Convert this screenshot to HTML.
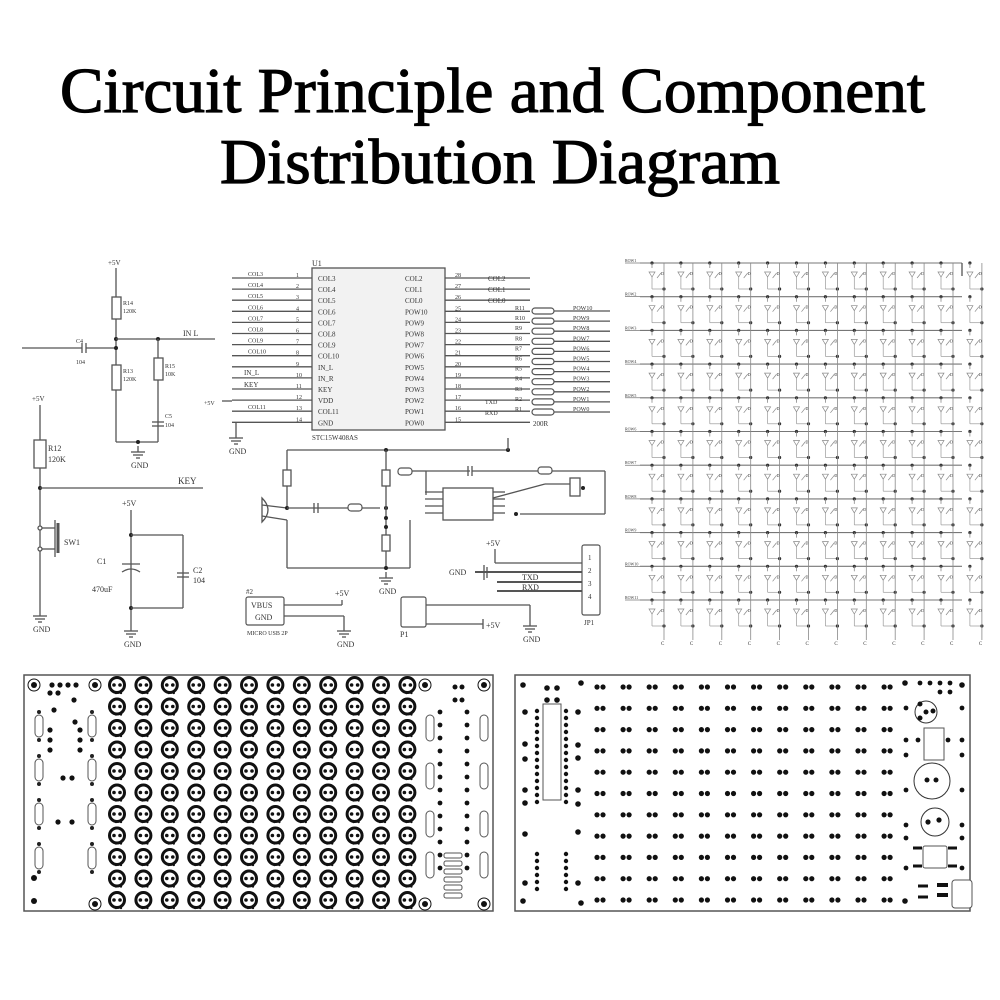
<!DOCTYPE html>
<html><head><meta charset="utf-8"><style>
html,body{margin:0;padding:0;background:#fff}
svg{display:block}
</style></head><body>
<svg id="s" width="1000" height="1000" viewBox="0 0 1000 1000" xmlns="http://www.w3.org/2000/svg">
<rect width="1000" height="1000" fill="#fff"/>
<text x="60" y="112" font-family="Liberation Serif, serif" font-size="64" stroke="#000" stroke-width="1.2" textLength="865" lengthAdjust="spacingAndGlyphs">Circuit Principle and Component</text>
<text x="220" y="183" font-family="Liberation Serif, serif" font-size="64" stroke="#000" stroke-width="1.2" textLength="560" lengthAdjust="spacingAndGlyphs">Distribution Diagram</text>
<g id="g" stroke="#555" stroke-width="1.3" fill="none" font-family="Liberation Serif, serif"></g>
</svg>
<script>
var o='';
function L(x1,y1,x2,y2,w,c){o+='<line x1="'+x1+'" y1="'+y1+'" x2="'+x2+'" y2="'+y2+'"'+(w?' stroke-width="'+w+'"':'')+(c?' stroke="'+c+'"':'')+'/>';}
function R(x,y,w,h,f,sw,rx){o+='<rect x="'+x+'" y="'+y+'" width="'+w+'" height="'+h+'"'+(f?' fill="'+f+'"':'')+(sw!=null?' stroke-width="'+sw+'"':'')+(rx?' rx="'+rx+'"':'')+'/>';}
function C(x,y,r,f,sw,st){o+='<circle cx="'+x+'" cy="'+y+'" r="'+r+'"'+(f?' fill="'+f+'"':'')+(sw!=null?' stroke-width="'+sw+'"':'')+(st?' stroke="'+st+'"':'')+'/>';}
function T(x,y,s,t,sz){o+='<text x="'+x+'" y="'+y+'" font-size="'+(sz||7)+'" fill="#333" stroke="none">'+t+'</text>';}
function D(x,y){C(x,y,2,'#222',0);}
function GND(x,y){L(x,y,x,y+6);L(x-7,y+6,x+7,y+6);L(x-5,y+9,x+5,y+9);L(x-2,y+12,x+2,y+12);T(x-7,y+22,0,'GND',8);}
function CAP(x,y,horiz){if(horiz){L(x-2,y-5,x-2,y+5);L(x+2,y-5,x+2,y+5);}else{L(x-6,y-2,x+6,y-2);L(x-6,y+2,x+6,y+2);}}
// ---- left schematic
T(108,265,0,'+5V',7);L(116,268,116,442);R(112,297,9,22,'#fff');T(123,305,0,'R14',6);T(123,313,0,'120K',6);
D(116,339);L(116,339,215,339);T(183,336,0,'IN L',8);D(158,339);
L(22,348,82,348);CAP(84,348,1);L(86,348,116,348);D(116,348);T(76,343,0,'C4',6);T(76,364,0,'104',6);
R(112,365,9,25,'#fff');T(123,373,0,'R13',6);T(123,381,0,'120K',6);
L(158,339,158,442);R(154,358,9,22,'#fff');T(165,368,0,'R15',6);T(165,376,0,'10K',6);CAP(158,424,0);T(165,418,0,'C5',6);T(165,427,0,'104',6);
L(116,442,158,442);D(138,442);GND(138,446);
T(32,401,0,'+5V',7);L(40,405,40,610);R(34,440,12,28,'#fff');T(48,451,0,'R12',8);T(48,462,0,'120K',8);
D(40,488);L(40,488,203,488);T(178,484,0,'KEY',9);
C(40,528,2,'#fff');C(40,549,2,'#fff');L(42,528,55,528);L(42,549,55,549);L(55,520,55,557);L(58,523,58,553,3);T(64,545,0,'SW1',8);
GND(40,610);
T(122,506,0,'+5V',8);L(131,510,131,625);D(131,535);D(131,608);L(131,535,183,535);L(183,535,183,608);L(131,608,183,608);
L(122,564,140,564);o+='<path d="M122 572 Q131 566 140 572"/>';T(97,564,0,'C1',8);T(92,592,0,'470uF',8);
CAP(183,575,0);T(193,573,0,'C2',8);T(193,583,0,'104',8);GND(131,625);
// ---- IC
R(312,268,133,162,'#f2f2f2');T(312,266,0,'U1',8);
var ln=['COL3','COL4','COL5','COL6','COL7','COL8','COL9','COL10','IN_L','IN_R','KEY','VDD','COL11','GND'];
var rn=['COL2','COL1','COL0','POW10','POW9','POW8','POW7','POW6','POW5','POW4','POW3','POW2','POW1','POW0'];
for(var i=0;i<14;i++){var y=278+i*11.1;L(232,y,312,y);L(445,y,530,y);T(318,y+3,0,ln[i],7);T(405,y+3,0,rn[i],7);T(296,y-1,0,String(i+1),6);T(455,y-1,0,String(28-i),6);
if(i<8||i==12)T(248,y-2,0,i==12?'COL11':['COL3','COL4','COL5','COL6','COL7','COL8','COL9','COL10'][i],6);}
T(244,375,0,'IN_L',7);T(244,387,0,'KEY',7);T(204,405,0,'+5V',6);L(222,401,232,401);
L(236,422,236,432);GND(236,432);T(312,440,0,'STC15W408AS',7);
for(i=0;i<3;i++)T(488,281+i*11,0,['COL2','COL1','COL0'][i],7);
for(i=0;i<11;i++){var y=311+i*10.1;R(532,y-3,22,6,'#fff',1.2,3);L(554,y,610,y);T(573,y-1,0,'POW'+(10-i),6);T(515,y-1,0,'R'+(11-i),6);}
T(533,426,0,'200R',7);T(485,404,0,'TXD',6);T(485,415,0,'RXD',6);
// ---- lower mid
L(287,450,510,450);D(386,450);D(508,450);L(508,438,508,450);L(287,450,287,508);R(283,470,8,16,'#fff');
o+='<path d="M262 498 Q274 510 262 522 Z"/>';L(262,505,287,508);L(262,516,287,520);D(287,508);
L(287,508,380,508);CAP(316,508,1);R(348,504,14,7,'#fff',1.2,3);D(386,508);L(386,450,386,570);R(382,470,8,16,'#fff');
D(386,518);D(386,527);R(382,535,8,16,'#fff');L(287,520,287,568);L(287,568,410,568);D(386,568);L(410,568,410,520);GND(386,572);
R(398,468,14,7,'#fff',1.2,3);L(412,471,426,471);L(426,471,426,495);L(426,471,470,471);CAP(470,471,1);L(472,471,538,471);R(538,467,14,7,'#fff',1.2,3);L(552,471,605,471);L(605,471,605,514);
R(443,488,50,32,'#fff');L(493,498,545,484);L(545,484,580,484);R(570,478,10,18,'#fff');L(520,514,605,514);D(516,514);D(583,488);
for(i=0;i<4;i++){L(425,492+i*7,443,492+i*7);L(493,492+i*7,505,492+i*7);}
T(486,546,0,'+5V',8);L(495,549,495,563);L(495,563,582,563);T(449,575,0,'GND',8);L(475,572,582,572,2);L(484,565,484,580);L(487,567,487,578);
L(497,582,582,582,2);L(497,591,582,591,2);T(522,580,0,'TXD',8);T(522,590,0,'RXD',8);
R(582,545,18,70,'#fff',1.2,2);T(588,560,0,'1',7);T(588,573,0,'2',7);T(588,586,0,'3',7);T(588,599,0,'4',7);T(584,625,0,'JP1',7);
R(246,597,38,28,'#fff',1.2,2);T(251,608,0,'VBUS',8);T(255,620,0,'GND',8);T(246,594,0,'#2',7);T(247,635,0,'MICRO USB 2P',6);
L(284,605,342,605);L(342,600,342,605);T(335,596,0,'+5V',8);L(284,616,344,616);L(344,616,344,625);GND(344,625);
R(401,597,25,30,'#fff',1.2,2);T(400,637,0,'P1',8);L(426,605,530,605);L(530,605,530,620);GND(530,620);L(426,624,483,624);L(483,619,483,629);T(486,628,0,'+5V',8);
// ---- LED matrix
var cx=[];for(i=0;i<12;i++)cx.push(652+i*28.9);
for(var r=0;r<11;r++){var y=263+r*33.7;L(640,y,962,y,1.1,'#777');L(625,y,640,y,0.6);T(625,y-1,0,'ROW'+(r+1),4);
for(i=0;i<12;i++){var x=cx[i];C(x,y,1.6,'#333',0);L(x,y,x,y+5,0.8,'#888');o+='<path d="M'+(x-3)+' '+(y+9)+' L'+(x+3)+' '+(y+9)+' L'+x+' '+(y+14)+' Z" stroke-width="0.7" stroke="#888"/>';
L(x,y+14,x,y+26,0.7,'#999');L(x,y+26,x+12,y+26,0.7,'#999');C(x+12,y+26,1.6,'#333',0);
L(x+5,y+15,x+9,y+10,0.7,'#888');T(x+9,y+12,0,'D',4);}
}
for(i=0;i<12;i++){L(cx[i]+12,263,cx[i]+12,640,0.8,'#888');T(cx[i]+9,645,0,'C',5);}
L(962,263,962,276);
// ---- left PCB
R(24,675,469,236,'#fff',1.5,0);
var ex=function(x,y){C(x,y,7.5,'#fff',3,'#111');C(x-3,y,1.8,'#111',0);C(x+3,y,1.8,'#111',0);C(x-1,y+8,1.2,'#111',0);C(x+4,y+8,1.2,'#111',0);};
for(r=0;r<11;r++)for(i=0;i<12;i++)ex(117+i*26.4,685+r*21.5);
[[34,685],[95,685],[425,685],[484,685],[95,904],[425,904],[484,904]].forEach(function(p){C(p[0],p[1],6,'#fff',1,'#111');C(p[0],p[1],3,'#111',0);});
C(34,901,3,'#111',0);C(34,878,3,'#111',0);
for(r=0;r<4;r++){R(35,715+r*44,8,22,'#fff',1,4);D(39,712+r*44);D(39,740+r*44);R(88,715+r*44,8,22,'#fff',1,4);D(92,712+r*44);D(92,740+r*44);}
[[52,685],[60,685],[68,685],[76,685],[50,693],[58,693],[74,700],[54,710],[75,722],[50,730],[50,740],[50,750],[80,730],[80,740],[80,750],[63,778],[72,778],[58,822],[72,822]].forEach(function(p){C(p[0],p[1],2.6,'#111',0);});
for(r=0;r<13;r++){C(440,712+r*13,2.4,'#111',0);C(467,712+r*13,2.4,'#111',0);}
for(r=0;r<3;r++){R(426,715+r*48,8,26,'#fff',1,4);R(480,715+r*48,8,26,'#fff',1,4);}
R(426,852,8,26,'#fff',1,4);R(480,852,8,26,'#fff',1,4);
for(r=0;r<6;r++)R(444,853+r*8,18,5,'#fff',1,2);
C(455,687,2.5,'#111',0);C(462,687,2.5,'#111',0);C(455,700,2.5,'#111',0);C(462,700,2.5,'#111',0);
// ---- right PCB
R(515,675,455,236,'#fff',1.5,0);
for(r=0;r<11;r++)for(i=0;i<12;i++){var x=600+i*26.1,y=687+r*21.3;C(x-3,y,2.6,'#111',0);C(x+3,y,2.6,'#111',0);}
R(543,704,18,96,'#fff',1,0);
for(r=0;r<14;r++){C(537,711+r*7,2.2,'#111',0);C(566,711+r*7,2.2,'#111',0);}
[[523,685],[581,683],[523,901],[581,903],[905,683],[962,685],[905,901],[547,688],[557,688],[547,700],[557,700],[525,712],[578,712],[525,744],[525,759],[578,745],[578,758],[525,790],[525,803],[578,790],[578,804],[525,834],[578,832],[525,883],[578,883]].forEach(function(p){C(p[0],p[1],2.8,'#111',0);});
for(r=0;r<6;r++){C(537,854+r*7,2.2,'#111',0);C(566,854+r*7,2.2,'#111',0);}
C(926,712,11,'#fff',1,'#333');C(926,712,2.5,'#111',0);C(920,718,2.5,'#111',0);C(920,704,2.5,'#111',0);C(933,711,2.5,'#111',0);
R(924,728,20,32,'#fff',1,0);
C(932,781,18,'#fff',1,'#333');C(927,780,2.5,'#111',0);C(936,780,2.5,'#111',0);
C(935,822,14,'#fff',1,'#333');C(928,822,2.6,'#111',0);C(939,820,2.6,'#111',0);
R(923,846,24,22,'#fff',1,2);L(913,848,922,848,3,'#111');L(948,848,957,848,3,'#111');L(913,866,922,866,3,'#111');L(948,866,957,866,3,'#111');
R(952,880,20,28,'#fff',1,3);L(937,885,948,885,4,'#111');L(937,895,948,895,4,'#111');L(918,886,928,886,3,'#111');L(918,897,928,897,3,'#111');
[[906,708],[962,708],[906,740],[918,740],[948,740],[962,740],[906,755],[962,755],[906,790],[962,790],[906,825],[962,825],[906,838],[962,838],[906,868],[962,868],[920,683],[930,683],[940,683],[950,683],[940,692],[950,692]].forEach(function(p){C(p[0],p[1],2.4,'#111',0);});
document.getElementById('g').innerHTML=o;
</script>
</body></html>
